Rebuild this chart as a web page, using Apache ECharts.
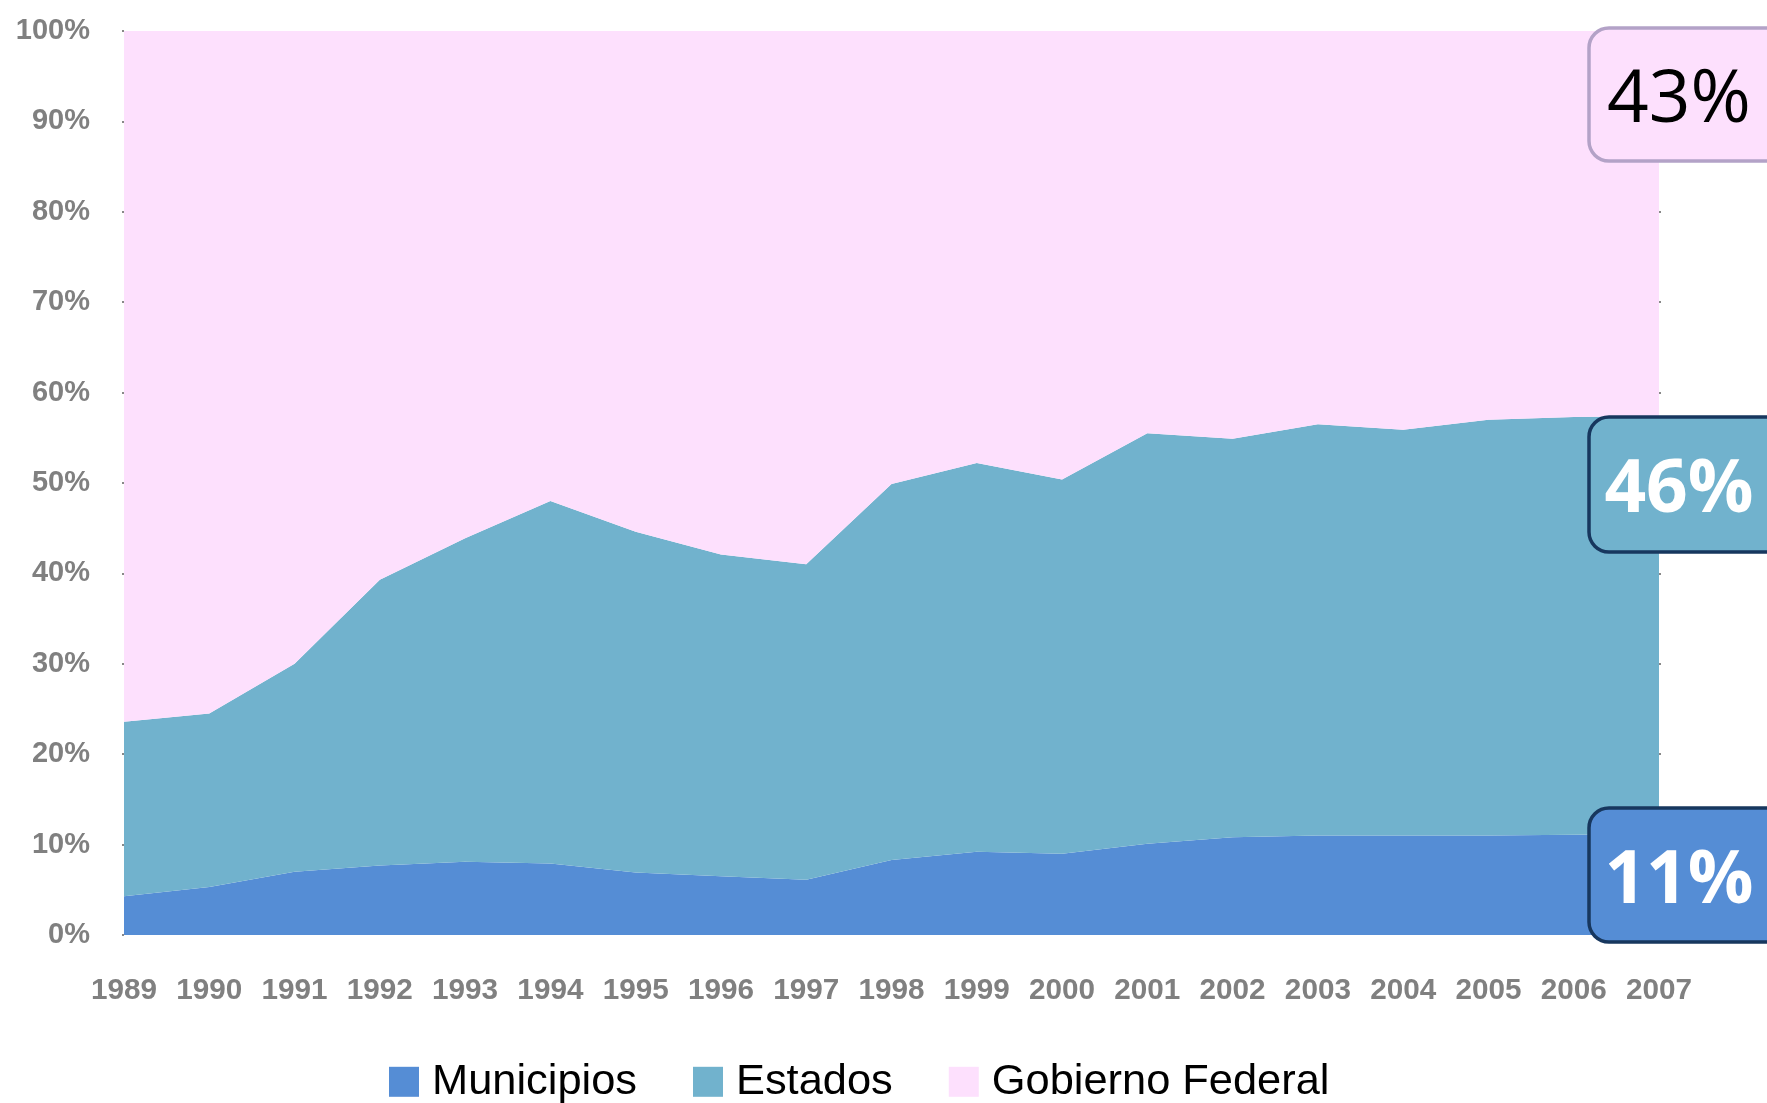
<!DOCTYPE html>
<html>
<head>
<meta charset="utf-8">
<script src="https://cdn.jsdelivr.net/npm/echarts@6/dist/echarts.min.js"></script>
<style>
html,body{margin:0;padding:0;background:#fff;}
#chart{width:1767px;height:1103px;}
</style>
</head>
<body>
<div id="chart"></div>
<script>
const years = ['1989','1990','1991','1992','1993','1994','1995','1996','1997','1998','1999','2000','2001','2002','2003','2004','2005','2006','2007'];
const municipios = [4.3, 5.3, 7.0, 7.7, 8.1, 7.9, 6.9, 6.5, 6.1, 8.3, 9.2, 9.0, 10.1, 10.8, 11.0, 11.0, 11.0, 11.1, 11.2];
const estados = [19.3, 19.2, 23.0, 31.6, 35.8, 40.1, 37.7, 35.6, 34.9, 41.6, 43.0, 41.4, 45.4, 44.1, 45.5, 44.9, 46.0, 46.2, 46.2];
const federal = [76.4, 75.5, 70.0, 60.7, 56.1, 52.0, 55.4, 57.9, 59.0, 50.1, 47.8, 49.6, 44.5, 45.1, 43.5, 44.1, 43.0, 42.7, 42.6];
const seriesNames = ['Municipios', 'Estados', 'Gobierno Federal'];
const colors = ['#558dd5', '#71b2cd', '#fde0fd'];
const callouts = ['43%', '46%', '11%'];

// pick a narrow face if one is installed, otherwise an Arial-metric face, and fit sizes to the reference widths
const mctx = document.createElement('canvas').getContext('2d');
function measure(font, text) { mctx.font = font; return mctx.measureText(text).width; }
const narrowAvail = measure('bold 100px "Liberation Sans Narrow", monospace', '1989') !== measure('bold 100px monospace', '1989');
const family = narrowAvail ? '"Liberation Sans Narrow", "Liberation Sans", Arial, sans-serif' : '"Liberation Sans", Arial, sans-serif';
function fit(weight, text, target) {
  return Math.round(100 * target / measure(weight + ' 100px ' + family, text) * 10) / 10;
}
const xSize = fit('bold', '1989', 66);
const ySize = fit('bold', '90%', 58);
const legSize = fit('normal', 'Municipios', 205);

const chart = echarts.init(document.getElementById('chart'), null, {renderer: 'canvas'});

function areaSeries(name, data, color) {
  return {
    name: name, type: 'line', stack: 'total', data: data,
    symbol: 'none', smooth: false,
    lineStyle: {width: 0, color: color},
    itemStyle: {color: color},
    areaStyle: {color: color, opacity: 1}
  };
}

function callout(y, h, fill, stroke, text, textColor, weight) {
  return [
    {type: 'rect', shape: {x: 1589, y: y, width: 220, height: h, r: 20},
     style: {fill: fill, stroke: stroke, lineWidth: 3.5}, z: 10},
    {type: 'text', x: 1679, y: y + h / 2 + 7,
     style: {text: text, fill: textColor, font: weight + ' 73px "Open Sans", "Noto Sans", sans-serif',
             align: 'center', verticalAlign: 'middle', textAlign: 'center', textVerticalAlign: 'middle'}, z: 11}
  ];
}

chart.setOption({
  animation: false,
  color: colors,
  grid: {left: 124, right: 108, top: 31, bottom: 168, containLabel: false},
  legend: {
    left: 389, top: 1082 - Math.max(30, legSize) / 2, padding: 0,
    itemWidth: 30, itemHeight: 30, itemGap: 56,
    icon: 'rect',
    data: seriesNames,
    textStyle: {fontFamily: family, fontSize: legSize, color: '#000', padding: [0, 0, 0, 8]}
  },
  xAxis: {
    type: 'category', data: years, boundaryGap: false,
    axisLine: {show: false},
    axisTick: {show: false},
    axisLabel: {interval: 0, fontFamily: family, fontWeight: 'bold', fontSize: xSize, color: '#808080',
                margin: 991 - 935 - xSize / 2}
  },
  yAxis: [{
    type: 'value', min: 0, max: 100, interval: 10,
    axisLine: {show: false},
    axisTick: {show: true, length: 2, lineStyle: {color: '#888', width: 2}},
    splitLine: {show: false},
    axisLabel: {formatter: '{value}%', fontFamily: family, fontWeight: 'bold', fontSize: ySize, color: '#808080', margin: 34}
  }, {
    type: 'value', min: 0, max: 100, interval: 10, position: 'right',
    axisLine: {show: false},
    axisTick: {show: true, length: 2, lineStyle: {color: '#888', width: 2}},
    splitLine: {show: false},
    axisLabel: {show: false}
  }],
  series: [
    areaSeries(seriesNames[0], municipios, colors[0]),
    areaSeries(seriesNames[1], estados, colors[1]),
    areaSeries(seriesNames[2], federal, colors[2])
  ],
  graphic: [].concat(
    callout(28, 133, '#fde0fd', '#b3a2c7', callouts[0], '#000', 'normal'),
    callout(417, 135, '#71b2cd', '#17375e', callouts[1], '#fff', 'bold'),
    callout(808, 134, '#558dd5', '#17375e', callouts[2], '#fff', 'bold')
  )
});
</script>
</body>
</html>
